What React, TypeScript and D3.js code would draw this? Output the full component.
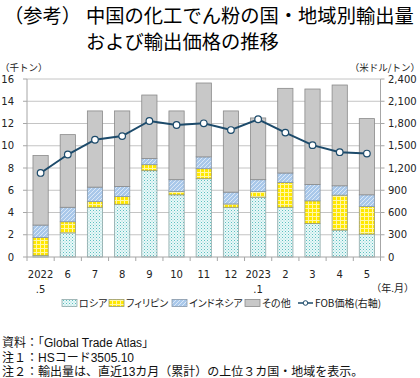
import React from "react";
import * as d3 from "d3";

const months = ["2022.5", "6", "7", "8", "9", "10", "11", "12", "2023.1", "2", "3", "4", "5"];
const labelTop = ["2022", "6", "7", "8", "9", "10", "11", "12", "2023", "2", "3", "4", "5"];
const labelBottom = [".5", "", "", "", "", "", "", "", ".1", "", "", "", ""];

const russia = [0.15, 2.17, 4.47, 4.74, 7.76, 5.59, 7.04, 4.47, 5.38, 4.47, 3.02, 2.42, 2.06];
const philippines = [1.61, 1.0, 0.51, 0.69, 0.54, 0.3, 0.9, 0.3, 0.51, 2.23, 2.03, 3.14, 2.47];
const indonesia = [1.11, 1.3, 1.3, 0.91, 0.55, 1.06, 1.06, 1.06, 1.06, 0.85, 1.47, 0.84, 1.06];
const others = [6.25, 6.53, 6.85, 6.79, 5.71, 6.18, 6.64, 7.3, 5.55, 7.61, 8.58, 9.06, 6.85];
const fobPrice = [1133, 1382, 1581, 1630, 1834, 1780, 1803, 1712, 1857, 1677, 1508, 1413, 1395];

const leftTicks = [0, 2, 4, 6, 8, 10, 12, 14, 16];
const rightTicks = [0, 300, 600, 900, 1200, 1500, 1800, 2100, 2400];

const seriesNames = ["ロシア", "フィリピン", "インドネシア", "その他"];
const lineName = "FOB価格(右軸)";

const JP = "'Noto Sans CJK JP', sans-serif";
const NUM = "'DejaVu Sans', 'Noto Sans CJK JP', sans-serif";
const NOTE = "'Liberation Sans', 'Noto Sans CJK JP', sans-serif";

export default function App() {
  const W = 420, H = 378;
  const x0 = 27, x1 = 380.5, yBot = 257, yTop = 79;

  const x = d3.scaleBand<string>().domain(months).range([x0, x1]).paddingInner(0.44).paddingOuter(0.22);
  const yL = d3.scaleLinear().domain([0, 16]).range([yBot, yTop]);
  const yR = d3.scaleLinear().domain([0, 2400]).range([yBot, yTop]);

  const table = months.map((m, i) => ({
    m,
    russia: russia[i],
    philippines: philippines[i],
    indonesia: indonesia[i],
    others: others[i],
  }));
  const keys = ["russia", "philippines", "indonesia", "others"];
  const fills = ["url(#pRussia)", "url(#pPhil)", "url(#pIndo)", "#c8c8c8"];
  const strokes = ["#8fa9a9", "#9a9a70", "#8797a8", "#8a8a8a"];
  const stack = d3.stack<any>().keys(keys)(table);

  const step = x.step();
  const line = d3
    .line<number>()
    .x((_, i) => (x(months[i]) as number) + x.bandwidth() / 2)
    .y((d) => yR(d));

  const lineColor = "#1d4b6b";

  const legendX = [62, 109, 172, 245];
  const legendLineX = 298;

  return (
    <svg width={W} height={H} style={{ position: "absolute", left: 0, top: 0, background: "#fff" }}>
      <defs>
        <pattern id="pRussia" width="3" height="3" patternUnits="userSpaceOnUse">
          <rect width="3" height="3" fill="#eaf8f8" />
          <rect x="0" y="0" width="1" height="1" fill="#5cc0c0" />
          <rect x="1.5" y="1.5" width="1" height="1" fill="#8fd6d6" />
        </pattern>
        <pattern id="pPhil" width="4" height="4" patternUnits="userSpaceOnUse">
          <rect width="4" height="4" fill="#ffe800" />
          <rect x="0" y="0" width="1" height="4" fill="#fff7a8" />
          <rect x="0" y="0" width="4" height="1" fill="#fff7a8" />
        </pattern>
        <pattern id="pIndo" width="4" height="4" patternUnits="userSpaceOnUse">
          <rect width="4" height="4" fill="#a9c8ea" />
          <path d="M-1,1 L1,-1 M0,4 L4,0 M3,5 L5,3" stroke="#dbe8f7" strokeWidth="1" />
        </pattern>
      </defs>

      {/* Title */}
      <text x={4} y={23} fontFamily={JP} fontSize={19.3} fontWeight={400} fill="#000">（参考）</text>
      <text x={86} y={23} fontFamily={JP} fontSize={19.3} fontWeight={400} fill="#000">中国の化工でん粉の国・地域別輸出量</text>
      <text x={86} y={48.5} fontFamily={JP} fontSize={19.3} fontWeight={400} fill="#000">および輸出価格の推移</text>

      {/* units */}
      <text x={0} y={70.5} fontFamily={JP} fontSize={9.5} fill="#222">（千トン）</text>
      <text x={420} y={70.5} textAnchor="end" fontFamily={JP} fontSize={9.5} fill="#222">（米ドル/トン）</text>

      {/* gridlines */}
      {leftTicks.filter((t) => t > 0).map((t) => (
        <line key={"g" + t} x1={x0} x2={x1} y1={yL(t)} y2={yL(t)} stroke="#c4c4c4" strokeWidth={1} />
      ))}

      {/* bars */}
      {stack.map((s, si) =>
        s.map((d, i) => (
          <rect
            key={si + "-" + i}
            x={x(months[i])}
            width={x.bandwidth()}
            y={yL(d[1])}
            height={Math.max(0, yL(d[0]) - yL(d[1]))}
            fill={fills[si]}
            stroke={strokes[si]}
            strokeWidth={0.8}
          />
        ))
      )}

      {/* axes */}
      <line x1={x0} x2={x0} y1={yTop} y2={yBot} stroke="#a6a6a6" />
      <line x1={x1} x2={x1} y1={yTop} y2={yBot} stroke="#a6a6a6" />
      <line x1={x0} x2={x1} y1={yBot} y2={yBot} stroke="#a6a6a6" />
      {leftTicks.map((t) => (
        <g key={"l" + t}>
          <line x1={x0 - 4} x2={x0} y1={yL(t)} y2={yL(t)} stroke="#a6a6a6" />
          <text x={14} y={yL(t) + 3.6} textAnchor="end" fontFamily={NUM} fontSize={10} fill="#222">{t}</text>
        </g>
      ))}
      {rightTicks.map((t) => (
        <g key={"r" + t}>
          <line x1={x1} x2={x1 + 4} y1={yR(t)} y2={yR(t)} stroke="#a6a6a6" />
          <text x={388} y={yR(t) + 3.6} fontFamily={NUM} fontSize={10} fill="#222">{d3.format(",")(t)}</text>
        </g>
      ))}
      {d3.range(months.length + 1).map((i) => (
        <line key={"xt" + i} x1={x0 + i * step} x2={x0 + i * step} y1={yBot} y2={yBot + 4} stroke="#a6a6a6" />
      ))}
      {months.map((m, i) => (
        <g key={"xl" + m}>
          <text x={(x(m) as number) + x.bandwidth() / 2} y={278} textAnchor="middle" fontFamily={NUM} fontSize={10} fill="#222">{labelTop[i]}</text>
          {labelBottom[i] && (
            <text x={(x(m) as number) + x.bandwidth() / 2} y={293} textAnchor="middle" fontFamily={NUM} fontSize={10} fill="#222">{labelBottom[i]}</text>
          )}
        </g>
      ))}
      <text x={414} y={292} textAnchor="end" fontFamily={JP} fontSize={10} fill="#222">（年.月）</text>

      {/* line */}
      <path d={line(fobPrice) || ""} fill="none" stroke={lineColor} strokeWidth={2} />
      {fobPrice.map((v, i) => (
        <circle key={"c" + i} cx={(x(months[i]) as number) + x.bandwidth() / 2} cy={yR(v)} r={3.3} fill="#fff" stroke={lineColor} strokeWidth={1.2} />
      ))}

      {/* legend */}
      {legendX.map((lx, i) => (
        <g key={"lg" + i}>
          <rect x={lx} y={299.5} width={15} height={7} fill={fills[i]} stroke={strokes[i]} strokeWidth={0.8} />
          <text x={lx + 17} y={306.8} fontFamily={JP} fontSize={10} fill="#222" style={{ fontFeatureSettings: "'palt'" }}>{seriesNames[i]}</text>
        </g>
      ))}
      <g>
        <line x1={legendLineX} x2={legendLineX + 15} y1={303} y2={303} stroke={lineColor} strokeWidth={1.5} />
        <circle cx={legendLineX + 7.5} cy={303} r={2.3} fill="#fff" stroke={lineColor} strokeWidth={1} />
        <text x={legendLineX + 17} y={306.8} fontFamily={JP} fontSize={10} fill="#222" style={{ fontFeatureSettings: "'palt'" }}>{lineName}</text>
      </g>

      {/* notes */}
      <text x={2} y={347} fontFamily={NOTE} fontSize={12} fill="#111">資料：「Global Trade Atlas」</text>
      <text x={2} y={361.5} fontFamily={NOTE} fontSize={12} fill="#111">注１：HSコード3505.10</text>
      <text x={2} y={375.5} fontFamily={NOTE} fontSize={12} fill="#111">注２：輸出量は、直近13カ月（累計）の上位３カ国・地域を表示。</text>
    </svg>
  );
}
